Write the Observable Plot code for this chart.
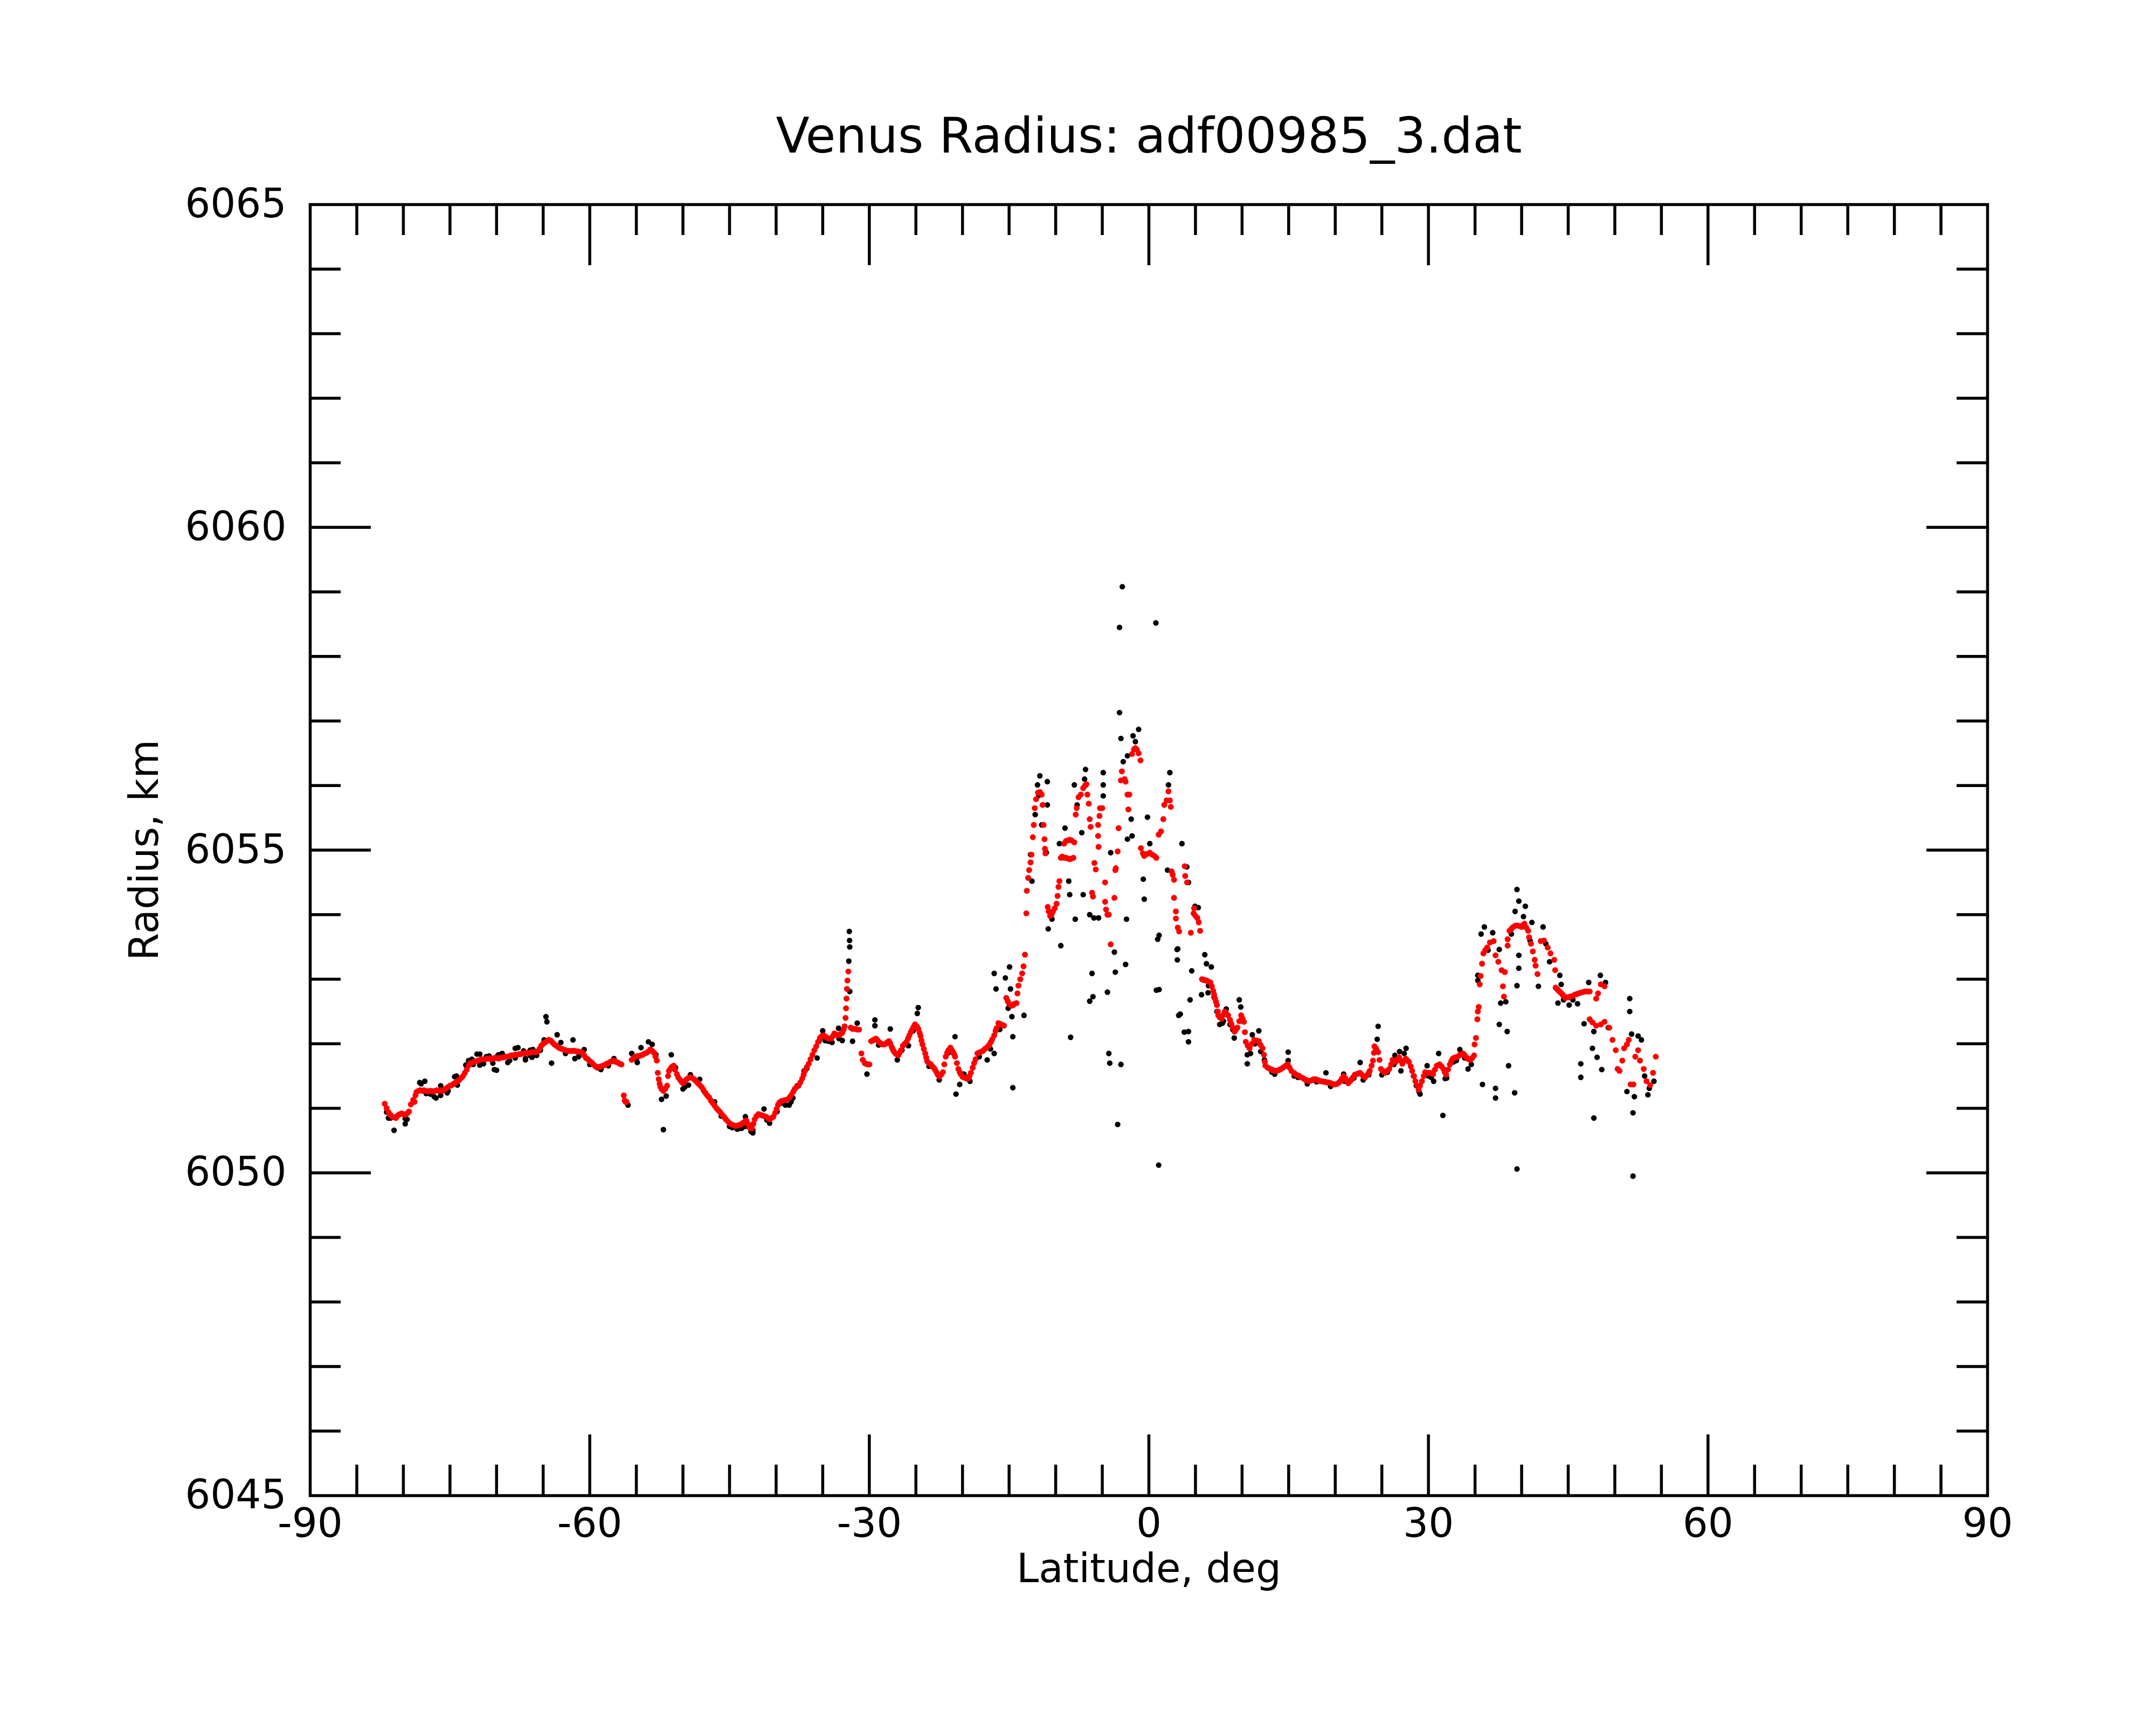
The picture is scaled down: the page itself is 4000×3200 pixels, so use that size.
<!DOCTYPE html>
<html><head><meta charset="utf-8">
<script src="https://cdn.jsdelivr.net/npm/d3@7"></script>
<script src="https://cdn.jsdelivr.net/npm/@observablehq/plot@0.6"></script>
<style>html,body{margin:0;padding:0;background:#fff}</style>
</head><body><div id="chart"></div>
<script>
const title = "Venus Radius: adf00985_3.dat";
const xLabel = "Latitude, deg";
const yLabel = "Radius, km";
const xTickLabels = [-90, -60, -30, 0, 30, 60, 90];
const yTickLabels = [6045, 6050, 6055, 6060, 6065];

// smoothed (red) series: [latitude deg, radius km]
const redSouth = [
[-82.0,6051.07],[-81.8,6051.0],[-81.6,6050.94],[-81.4,6050.9],[-81.2,6050.87],[-81.0,6050.86],[-80.8,6050.85],[-80.65,6050.88],
[-80.5,6050.9],[-80.35,6050.91],[-80.2,6050.92],[-80.0,6050.91],[-79.8,6050.9],[-79.6,6050.92],[-79.4,6050.95],[-79.2,6051.06],
[-78.95,6051.13],[-78.8,6051.1],[-78.7,6051.2],[-78.6,6051.25],[-78.4,6051.27],[-78.2,6051.28],[-78.0,6051.27],[-77.8,6051.28],
[-77.6,6051.27],[-77.4,6051.26],[-77.2,6051.27],[-77.0,6051.27],[-76.8,6051.26],[-76.6,6051.27],[-76.4,6051.28],[-76.2,6051.27],
[-76.0,6051.28],[-75.8,6051.27],[-75.6,6051.29],[-75.4,6051.31],[-75.2,6051.33],[-75.0,6051.35],[-74.8,6051.36],[-74.6,6051.38],
[-74.4,6051.4],[-74.2,6051.42],[-74.0,6051.44],[-73.8,6051.47],[-73.6,6051.5],[-73.4,6051.55],[-73.2,6051.6],[-73.0,6051.66],
[-72.8,6051.7],[-72.6,6051.71],[-72.4,6051.72],[-72.2,6051.73],[-72.0,6051.74],[-71.8,6051.75],[-71.6,6051.76],[-71.4,6051.76],
[-71.2,6051.76],[-71.0,6051.77],[-70.8,6051.77],[-70.6,6051.76],[-70.4,6051.77],[-70.2,6051.78],[-70.0,6051.78],[-69.8,6051.77],
[-69.6,6051.78],[-69.4,6051.79],[-69.2,6051.79],[-69.0,6051.8],[-68.8,6051.8],[-68.6,6051.81],[-68.4,6051.82],[-68.2,6051.82],
[-68.0,6051.83],[-67.8,6051.83],[-67.6,6051.84],[-67.4,6051.84],[-67.2,6051.85],[-67.0,6051.85],[-66.8,6051.86],[-66.6,6051.86],
[-66.4,6051.86],[-66.2,6051.87],[-66.0,6051.87],[-65.8,6051.87],[-65.6,6051.88],[-65.4,6051.92],[-65.2,6051.97],[-65.0,6052.0],
[-64.8,6052.02],[-64.6,6052.04],[-64.4,6052.06],[-64.2,6052.05],[-64.0,6052.02],[-63.8,6051.99],[-63.6,6051.97],[-63.4,6051.95],
[-63.2,6051.93],[-63.0,6051.92],[-62.8,6051.91],[-62.6,6051.9],[-62.4,6051.89],[-62.2,6051.89],[-62.0,6051.89],[-61.8,6051.89],
[-61.6,6051.89],[-61.4,6051.88],[-61.2,6051.88],[-61.0,6051.87],[-60.8,6051.86],[-60.6,6051.82],[-60.4,6051.78],[-60.2,6051.76],
[-60.0,6051.73],[-59.8,6051.71],[-59.6,6051.68],[-59.4,6051.65],[-59.2,6051.64],[-59.0,6051.64],[-58.8,6051.65],[-58.6,6051.66],
[-58.4,6051.67],[-58.2,6051.69],[-58.0,6051.7],[-57.8,6051.72],[-57.6,6051.73],[-57.4,6051.74],[-57.2,6051.72],[-57.0,6051.71],
[-56.8,6051.69],[-56.6,6051.68],[-56.35,6051.2],[-56.25,6051.12],[-56.15,6051.1],[-56.05,6051.1]
];
const redMid = [
[-55.5,6051.75],[-55.3,6051.78],[-55.1,6051.8],[-54.9,6051.81],[-54.7,6051.81],[-54.5,6051.82],[-54.3,6051.83],[-54.1,6051.85],
[-53.9,6051.86],[-53.7,6051.88],[-53.5,6051.91],[-53.3,6051.89],[-53.1,6051.86],[-52.95,6051.8],[-52.8,6051.74],[-52.7,6051.55],
[-52.6,6051.45],[-52.5,6051.38],[-52.4,6051.33],[-52.3,6051.3],[-52.1,6051.27],[-51.9,6051.3],[-51.7,6051.35],[-51.6,6051.5],
[-51.5,6051.58],[-51.35,6051.61],[-51.2,6051.64],[-51.0,6051.66],[-50.85,6051.6],[-50.65,6051.53],[-50.5,6051.48],[-50.3,6051.44],
[-50.15,6051.41],[-50.0,6051.39],[-49.8,6051.42],[-49.6,6051.45],[-49.4,6051.47],[-49.2,6051.48],[-49.0,6051.47],[-48.8,6051.45],
[-48.6,6051.42],[-48.4,6051.39],[-48.2,6051.36],[-48.0,6051.33],[-47.8,6051.29],[-47.6,6051.24],[-47.4,6051.2],[-47.2,6051.17],
[-47.0,6051.12],[-46.8,6051.08],[-46.6,6051.04],[-46.4,6051.0],[-46.2,6050.97],[-46.0,6050.94],[-45.8,6050.9],[-45.6,6050.87],
[-45.4,6050.83],[-45.2,6050.8],[-45.0,6050.77],[-44.8,6050.75],[-44.6,6050.74],[-44.4,6050.73],[-44.2,6050.73],[-44.0,6050.74],
[-43.8,6050.75],[-43.6,6050.77],[-43.4,6050.79],[-43.2,6050.81],[-43.05,6050.76],[-42.9,6050.71],[-42.75,6050.69],[-42.6,6050.69],
[-42.45,6050.76],[-42.3,6050.83],[-42.1,6050.88],[-41.9,6050.91],[-41.7,6050.9],[-41.5,6050.89],[-41.3,6050.88],[-41.1,6050.87],
[-40.9,6050.85],[-40.7,6050.83],[-40.5,6050.85],[-40.3,6050.87],[-40.1,6050.93],[-39.95,6050.99],[-39.8,6051.05],[-39.65,6051.09],
[-39.45,6051.11],[-39.25,6051.12],[-39.0,6051.13],[-38.75,6051.14],[-38.55,6051.17],[-38.35,6051.21],[-38.15,6051.26],[-38.0,6051.3],
[-37.8,6051.33],[-37.6,6051.35],[-37.4,6051.4],[-37.2,6051.46],[-37.05,6051.52],[-36.9,6051.58],[-36.7,6051.64],[-36.5,6051.69],
[-36.3,6051.76],[-36.1,6051.83],[-35.9,6051.9],[-35.7,6051.96],[-35.5,6052.03],[-35.3,6052.09],[-35.1,6052.12],[-34.9,6052.13],
[-34.7,6052.11],[-34.5,6052.09],[-34.3,6052.08],[-34.1,6052.08],[-33.9,6052.12],[-33.75,6052.16],[-33.5,6052.14],[-33.3,6052.13],
[-33.1,6052.15],[-32.9,6052.17],[-32.75,6052.22],[-32.65,6052.27],[-32.55,6052.4],[-32.5,6052.55],[-32.45,6052.7],[-32.4,6052.85],
[-32.35,6052.98],[-32.25,6053.12],[-32.0,6052.25],[-31.8,6052.23],[-31.6,6052.23],[-31.45,6052.23],[-31.3,6052.22],[-31.1,6052.22],
[-30.85,6051.85],[-30.7,6051.75],[-30.5,6051.7],[-30.35,6051.69],[-30.2,6051.68],[-30.0,6051.68]
];
const redNearEq = [
[-29.8,6052.04],[-29.65,6052.05],[-29.55,6052.06],[-29.4,6052.07],[-29.3,6052.08],[-29.15,6052.06],[-29.0,6052.03],[-28.8,6052.01],
[-28.6,6051.99],[-28.4,6051.99],[-28.25,6052.0],[-28.1,6052.02],[-27.9,6052.04],[-27.75,6052.0],[-27.6,6051.95],[-27.5,6051.92],
[-27.4,6051.89],[-27.25,6051.86],[-27.1,6051.84],[-26.9,6051.82],[-26.75,6051.86],[-26.6,6051.9],[-26.4,6051.97],[-26.2,6052.0],
[-26.0,6052.03],[-25.85,6052.08],[-25.7,6052.13],[-25.55,6052.18],[-25.4,6052.22],[-25.25,6052.26],[-25.1,6052.3],[-24.9,6052.27],
[-24.75,6052.23],[-24.6,6052.17],[-24.5,6052.12],[-24.4,6052.05],[-24.3,6051.99],[-24.15,6051.92],[-24.0,6051.85],[-23.9,6051.79],
[-23.8,6051.73],[-23.6,6051.7],[-23.4,6051.68],[-23.25,6051.65],[-23.1,6051.63],[-22.95,6051.6],[-22.8,6051.56],[-22.65,6051.52],
[-22.5,6051.49],[-22.3,6051.52],[-22.1,6051.56],[-21.95,6051.68],[-21.8,6051.8],[-21.65,6051.86],[-21.5,6051.9],[-21.3,6051.94],
[-21.15,6051.9],[-21.0,6051.87],[-20.9,6051.84],[-20.8,6051.8],[-20.6,6051.7],[-20.45,6051.61],[-20.3,6051.56],[-20.2,6051.53],
[-20.0,6051.49],[-19.85,6051.48],[-19.7,6051.47],[-19.55,6051.46],[-19.4,6051.46],[-19.25,6051.5],[-19.1,6051.55],[-18.9,6051.63],
[-18.75,6051.7],[-18.6,6051.76],[-18.4,6051.85],[-18.25,6051.86],[-18.1,6051.87],[-17.95,6051.88],[-17.8,6051.89],[-17.6,6051.92],
[-17.4,6051.94],[-17.25,6051.96],[-17.1,6051.99],[-16.95,6052.03],[-16.8,6052.07],[-16.6,6052.13],[-16.45,6052.2],[-16.35,6052.24],
[-16.15,6052.32],[-16.0,6052.31],[-15.85,6052.3],[-15.7,6052.29],[-15.55,6052.28],[-15.3,6052.71],[-15.15,6052.66],[-15.0,6052.62],
[-14.85,6052.6],[-14.7,6052.59],[-14.55,6052.6],[-14.4,6052.62],[-14.2,6052.63],[-14.1,6052.78],[-14.0,6052.9],[-13.8,6053.0],
[-13.6,6053.09],[-13.45,6053.2],[-13.3,6053.38]
];
const redPeak = [
[-13.15,6054.02],[-13.1,6054.37],[-12.95,6054.57],[-12.85,6054.69],[-12.7,6054.81],[-12.6,6054.93],[-12.45,6055.2],[-12.35,6055.39],
[-12.25,6055.65],[-12.1,6055.79],[-11.9,6055.89],[-11.7,6055.9],[-11.5,6055.86],[-11.4,6055.7],[-11.3,6055.39],[-11.2,6055.17],
[-11.15,6055.02],[-11.1,6054.95],[-10.85,6054.12],[-10.75,6054.05],[-10.6,6053.98],[-10.45,6054.0],[-10.3,6054.05],[-10.1,6054.1],
[-9.9,6054.17],[-9.8,6054.29],[-9.7,6054.43],[-9.6,6054.52],[-9.45,6054.88],[-9.3,6054.9],[-9.1,6054.88],[-8.9,6054.88],
[-8.7,6054.87],[-8.5,6054.86],[-8.3,6054.87],[-8.1,6054.88],[-9.1,6055.1],[-8.9,6055.14],[-8.7,6055.15],[-8.5,6055.16],
[-8.3,6055.15],[-8.0,6055.12],[-7.85,6055.55],[-7.75,6055.65],[-7.55,6055.82],[-7.3,6055.86],[-7.05,6055.96],[-6.85,6056.0],
[-6.7,6056.02],[-6.6,6055.86],[-6.45,6055.72],[-6.35,6055.48],[-6.25,6055.36],[-5.85,6054.8],[-5.7,6054.7],[-6.1,6054.34],
[-6.0,6054.28],[-5.4,6055.05],[-5.45,6055.22],[-5.45,6055.39],[-5.3,6055.53],[-5.25,6055.65],[-5.0,6055.65],[-4.7,6054.5],
[-4.7,6054.2],[-4.6,6054.08],[-4.45,6054.0],[-4.3,6054.0],[-4.1,6053.54],[-3.7,6054.26],[-3.6,6054.69],[-3.55,6054.72],
[-3.35,6054.98],[-3.25,6055.34],[-3.0,6056.08],[-2.9,6056.22],[-2.6,6056.1],[-2.5,6056.06],[-2.3,6055.86],[-2.2,6055.63],
[-2.1,6055.86],[-1.8,6056.49],[-1.6,6056.56],[-1.45,6056.58],[-1.3,6056.56],[-1.1,6056.5],[-0.9,6056.39],[-0.85,6055.03],
[-0.65,6054.95],[-0.5,6054.91],[-0.2,6054.94],[0.1,6054.96],[0.35,6054.93],[0.6,6054.91],[0.8,6054.88],[1.05,6055.24],
[1.3,6055.29],[1.55,6055.48],[1.65,6055.7],[1.9,6055.77],[2.1,6055.91],[2.25,6055.77],[2.35,6055.67],[2.45,6054.67],
[2.55,6054.62],[2.7,6054.54],[2.7,6054.26],[2.9,6054.05],[2.9,6053.94],[3.1,6053.8],[3.25,6053.74],[3.85,6054.75],
[3.9,6054.6],[4.1,6054.5],[4.5,6053.72],[4.8,6054.02],[4.85,6054.1],[5.0,6053.98],[5.2,6053.95],[5.35,6053.88],[5.5,6053.75]
];
const redNorth = [
[5.7,6053.0],[5.85,6052.99],[5.95,6052.99],[6.1,6052.98],[6.2,6052.98],[6.4,6052.96],[6.6,6052.95],[6.75,6052.89],
[6.9,6052.82],[7.0,6052.76],[7.1,6052.7],[7.2,6052.65],[7.3,6052.6],[7.4,6052.5],[7.45,6052.44],[7.6,6052.41],
[7.8,6052.39],[8.0,6052.45],[8.15,6052.5],[8.3,6052.47],[8.5,6052.44],[8.7,6052.37],[8.85,6052.31],[9.0,6052.25],
[9.2,6052.19],[9.35,6052.22],[9.5,6052.25],[9.7,6052.35],[9.9,6052.44],[10.05,6052.39],[10.2,6052.34],[10.3,6052.18],
[10.4,6052.03],[10.6,6051.97],[10.8,6051.93],[11.05,6052.0],[11.3,6052.06],[11.55,6052.05],[11.8,6052.04],[12.0,6051.98],
[12.2,6051.93],[12.35,6051.83],[12.45,6051.72],[12.5,6051.66],[12.75,6051.63],[12.9,6051.62],[13.0,6051.61],[13.2,6051.6],
[13.35,6051.59],[13.5,6051.58],[13.7,6051.58],[13.9,6051.59],[14.05,6051.6],[14.2,6051.61],[14.4,6051.63],[14.6,6051.65],
[14.75,6051.67],[14.9,6051.68],[15.1,6051.63],[15.3,6051.58],[15.55,6051.55],[15.65,6051.54],[15.8,6051.52],[16.0,6051.51],
[16.15,6051.5],[16.3,6051.48],[16.5,6051.47],[16.7,6051.45],[16.85,6051.44],[17.0,6051.43],[17.2,6051.42],[17.4,6051.43],
[17.55,6051.44],[17.7,6051.45],[17.9,6051.45],[18.1,6051.44],[18.25,6051.43],[18.4,6051.42],[18.6,6051.42],[18.8,6051.41],
[18.95,6051.41],[19.1,6051.4],[19.3,6051.4],[19.5,6051.39],[19.65,6051.38],[19.8,6051.37],[20.0,6051.37],[20.2,6051.38],
[20.4,6051.4],[20.55,6051.42],[20.7,6051.46],[20.9,6051.5],[21.05,6051.47],[21.15,6051.44],[21.3,6051.41],[21.4,6051.39],
[21.6,6051.42],[21.75,6051.45],[21.9,6051.48],[22.1,6051.52],[22.3,6051.53],[22.5,6051.54],[22.65,6051.55],[22.8,6051.53],
[23.0,6051.5],[23.2,6051.48],[23.45,6051.52],[23.6,6051.55],[23.7,6051.58],[23.9,6051.66],[24.05,6051.74],[24.15,6051.86],
[24.2,6051.96],[24.3,6051.94],[24.4,6051.92],[24.6,6051.87],[24.75,6051.75],[24.9,6051.61],[25.1,6051.58],[25.3,6051.55],
[25.55,6051.58],[25.8,6051.61],[26.0,6051.68],[26.15,6051.75],[26.35,6051.73],[26.5,6051.72],[26.7,6051.76],[26.85,6051.79],
[27.0,6051.74],[27.2,6051.69],[27.35,6051.73],[27.55,6051.77],[27.7,6051.75],[27.9,6051.72],[28.1,6051.65],[28.25,6051.58],
[28.45,6051.5],[28.6,6051.42],[28.8,6051.35],[28.95,6051.29],[29.1,6051.35],[29.3,6051.42],[29.5,6051.5],[29.65,6051.56],
[29.9,6051.55],[30.05,6051.55],[30.2,6051.55],[30.35,6051.54],[30.5,6051.53],[30.7,6051.6],[30.9,6051.66],[31.05,6051.67],
[31.2,6051.68],[31.4,6051.65],[31.6,6051.61],[31.75,6051.56],[31.9,6051.52],[32.1,6051.6],[32.3,6051.68],[32.45,6051.73],
[32.6,6051.77],[32.75,6051.78],[32.9,6051.79],[33.15,6051.8],[33.3,6051.82],[33.45,6051.83],[33.6,6051.84],[33.7,6051.85],
[33.85,6051.83],[34.0,6051.8],[34.2,6051.77],[34.35,6051.76],[34.5,6051.75],[34.7,6051.78],[34.9,6051.82]
];
const redHigh = [
[34.95,6051.99],[35.1,6052.09],[35.25,6052.38],[35.3,6052.5],[35.4,6052.57],[35.5,6052.92],[35.6,6053.05],[35.75,6053.24],
[35.9,6053.4],[36.1,6053.45],[36.3,6053.49],[36.6,6053.57],[37.0,6053.59],[37.2,6053.37],[37.5,6053.27],[37.85,6053.14],
[38.2,6053.11],[38.0,6052.89],[38.1,6052.73],[38.5,6053.52],[38.5,6053.62],[38.7,6053.75],[38.9,6053.78],[39.1,6053.81],
[39.35,6053.83],[39.6,6053.83],[39.85,6053.82],[40.0,6053.81],[40.15,6053.84],[40.3,6053.86],[40.5,6053.8],[40.7,6053.75],
[40.8,6053.65],[41.0,6053.55],[41.2,6053.43],[41.4,6053.3],[41.5,6053.21],[41.7,6053.08],[42.05,6053.59],[42.4,6053.6],
[42.8,6053.49],[43.1,6053.4],[43.5,6053.3],[43.6,6053.14],[43.65,6052.87],[43.8,6052.85],[43.9,6052.83],[44.05,6052.81],
[44.2,6052.79],[44.35,6052.77],[44.45,6052.75],[44.6,6052.73],[44.7,6052.71],[44.9,6052.72],[45.05,6052.72],[45.2,6052.73],
[45.45,6052.74],[45.7,6052.76],[45.9,6052.77],[46.1,6052.78],[46.3,6052.79],[46.55,6052.8],[46.8,6052.81],[47.05,6052.81],
[47.3,6052.81],[48.0,6052.7],[48.2,6052.78],[48.5,6052.92],[48.9,6052.89],[47.3,6052.38],[47.6,6052.33],[48.0,6052.28],
[48.5,6052.3],[48.9,6052.34],[49.4,6052.25],[49.75,6052.06],[50.1,6051.9],[50.3,6051.61],[50.5,6051.58],[50.8,6051.74],
[51.0,6051.93],[51.3,6051.99],[51.5,6052.06],[51.7,6051.37],[52.0,6051.37],[52.2,6051.8],[52.5,6051.9],[52.7,6051.74],
[53.1,6051.61],[53.4,6051.42],[53.8,6051.36],[54.1,6051.55],[54.4,6051.8]
];

// raw (black) series: [latitude deg, radius km]
const blackSouth = [
[-81.8,6050.94],[-81.6,6050.85],[-81.4,6050.85],[-81.0,6050.66],[-79.8,6050.76],[-79.8,6050.84],[-79.6,6050.83],[-78.25,6051.4],
[-78.1,6051.38],[-77.7,6051.42],[-77.55,6051.23],[-77.1,6051.22],[-76.7,6051.18],[-76.5,6051.16],[-76.0,6051.35],[-76.0,6051.2],
[-75.3,6051.24],[-75.2,6051.27],[-74.5,6051.49],[-74.3,6051.5],[-74.2,6051.36],[-73.3,6051.67],[-73.0,6051.74],[-72.65,6051.76],
[-72.5,6051.68],[-72.1,6051.84],[-71.8,6051.84],[-71.8,6051.67],[-71.4,6051.69],[-71.1,6051.8],[-70.8,6051.81],[-70.4,6051.7],
[-70.24,6051.6],[-70.0,6051.59],[-69.9,6051.81],[-69.8,6051.83],[-69.4,6051.85],[-68.8,6051.71],[-68.6,6051.74],[-68.0,6051.93],
[-68.0,6051.78],[-67.7,6051.94],[-67.1,6051.89],[-66.9,6051.75],[-66.9,6051.77],[-66.4,6051.9],[-66.4,6051.82],[-66.2,6051.79],
[-66.1,6051.91],[-65.7,6051.82],[-65.3,6051.9],[-64.9,6052.06],[-64.7,6052.42],[-64.6,6052.34],[-64.1,6051.7],[-63.5,6052.14],
[-63.1,6052.02],[-62.6,6051.85],[-61.8,6052.06],[-61.6,6051.77],[-61.2,6051.8],[-60.6,6051.91],[-60.4,6051.78],[-60.0,6051.68],
[-59.2,6051.63],[-58.8,6051.6],[-58.8,6051.62],[-58.0,6051.66],[-57.4,6051.77],[-55.9,6051.05]
];
const blackMid = [
[-55.5,6051.85],[-55.0,6051.76],[-54.9,6051.71],[-54.5,6051.94],[-53.7,6052.03],[-53.3,6051.99],[-52.9,6051.83],[-52.3,6051.14],
[-52.1,6050.67],[-51.8,6051.19],[-51.25,6051.83],[-50.8,6051.63],[-50.0,6051.3],[-49.8,6051.33],[-49.4,6051.36],[-49.2,6051.52],
[-48.2,6051.45],[-47.8,6051.28],[-47.0,6051.12],[-46.6,6051.1],[-45.9,6050.88],[-45.5,6050.85],[-45.0,6050.72],[-44.7,6050.7],
[-44.2,6050.68],[-44.1,6050.68],[-43.7,6050.69],[-43.3,6050.87],[-43.3,6050.72],[-42.7,6050.64],[-42.5,6050.66],[-42.5,6050.62],
[-41.3,6050.99],[-41.0,6050.82],[-40.7,6050.77],[-39.9,6050.95],[-39.4,6051.08],[-39.0,6051.05],[-38.6,6051.05],[-38.4,6051.1],
[-38.2,6051.16],[-37.75,6051.35],[-37.0,6051.58],[-36.7,6051.62],[-36.3,6051.76],[-35.6,6051.78],[-35.4,6052.04],[-35.0,6052.2],
[-34.75,6052.05],[-34.4,6052.04],[-34.0,6052.02],[-33.3,6052.24],[-33.25,6052.08],[-32.9,6052.05],[-32.15,6053.74],[-32.12,6053.6],
[-32.1,6053.5],[-32.2,6053.28],[-32.1,6052.81],[-31.8,6052.04],[-31.3,6052.32],[-30.25,6051.53]
];
const blackNearEq = [
[-29.4,6052.37],[-29.4,6052.28],[-29.0,6051.98],[-27.75,6052.23],[-27.0,6051.75],[-26.5,6051.9],[-25.8,6051.97],[-25.3,6052.2],
[-24.75,6052.56],[-24.85,6052.47],[-23.6,6051.65],[-22.5,6051.44],[-21.5,6051.86],[-20.8,6052.11],[-20.7,6051.22],[-20.3,6051.37],
[-19.85,6051.53],[-19.2,6051.42],[-18.2,6051.8],[-17.35,6051.75],[-17.0,6051.92],[-16.6,6051.85],[-16.0,6052.22],[-16.6,6053.09],
[-16.4,6052.85],[-15.4,6053.02],[-15.1,6052.55],[-14.95,6053.19],[-14.85,6052.85],[-14.7,6052.42],[-14.6,6052.11],[-14.6,6051.32],
[-13.4,6052.44]
];
const blackPeak = [
[-12.55,6054.52],[-12.7,6054.93],[-12.2,6055.55],[-11.8,6055.85],[-11.7,6056.15],[-11.95,6056.01],[-10.9,6056.06],[-10.9,6055.7],
[-11.5,6055.39],[-11.0,6054.96],[-10.8,6053.78],[-10.4,6053.93],[-9.45,6053.52],[-9.6,6055.1],[-9.0,6055.34],[-8.6,6054.52],
[-8.5,6054.31],[-8.4,6052.1],[-7.9,6053.93],[-8.0,6056.01],[-7.7,6055.7],[-7.2,6055.27],[-7.05,6054.31],[-6.9,6056.1],
[-6.8,6056.25],[-6.35,6054.0],[-6.1,6053.09],[-6.35,6052.66],[-6.0,6052.73],[-5.9,6053.95],[-5.4,6053.95],[-4.9,6056.2],
[-4.9,6056.01],[-4.9,6055.84],[-4.45,6052.8],[-4.3,6051.85],[-4.2,6051.7],[-4.1,6054.96],[-3.7,6053.42],[-3.6,6053.11],
[-3.35,6050.75],[-3.0,6051.68],[-3.15,6057.13],[-3.0,6056.73],[-2.75,6056.37],[-2.4,6053.93],[-2.5,6053.23],[-2.3,6056.46],
[-2.3,6055.17],[-1.9,6055.48],[-1.8,6055.22],[-1.7,6056.77],[-1.45,6056.68],[-1.1,6056.87],[-0.5,6054.24],[-0.6,6054.55],
[-0.15,6055.51],[0.1,6055.1],[0.8,6052.83],[0.95,6053.62],[1.05,6050.12],[2.25,6056.2],[2.1,6056.01],[3.1,6053.47],
[3.05,6053.3],[3.2,6052.44],[3.55,6055.1],[3.8,6052.18],[-2.85,6059.08],[-3.15,6058.45],[0.75,6058.52],[1.1,6053.68],
[1.1,6052.84],[2.0,6054.69],[4.07,6054.74],[4.25,6054.5],[3.02,6053.46],[3.37,6052.46],[4.25,6052.19],[4.25,6052.03],
[4.42,6052.68],[4.6,6053.13],[4.95,6054.13],[5.3,6054.11]
];
const blackNorth = [
[6.0,6053.38],[6.18,6053.24],[6.7,6053.19],[5.65,6052.76],[6.35,6052.79],[6.4,6052.9],[7.0,6052.72],[7.3,6052.5],
[7.6,6052.3],[7.9,6052.32],[8.0,6052.35],[8.3,6052.54],[8.7,6052.3],[9.0,6052.22],[9.16,6052.09],[9.7,6052.68],
[9.86,6052.57],[10.0,6052.4],[10.56,6051.69],[10.56,6051.83],[10.9,6051.85],[11.1,6052.14],[11.4,6052.0],[11.8,6052.2],
[12.0,6051.88],[12.4,6051.75],[13.2,6051.56],[13.5,6051.53],[14.95,6051.87],[14.95,6051.74],[15.6,6051.5],[16.0,6051.48],
[17.0,6051.38],[18.0,6051.41],[19.0,6051.55],[19.5,6051.34],[20.9,6051.53],[21.0,6051.42],[22.0,6051.47],[22.67,6051.71],
[23.0,6051.44],[23.6,6051.52],[24.6,6052.27],[24.5,6052.07],[25.0,6051.52],[25.6,6051.56],[26.3,6051.68],[26.4,6051.82],
[26.9,6051.88],[27.4,6051.85],[27.6,6051.93],[27.05,6051.58],[28.4,6051.5],[28.7,6051.35],[28.98,6051.26],[29.1,6051.22],
[29.86,6051.66],[30.0,6051.5],[30.3,6051.48],[30.56,6051.42],[31.1,6051.85],[31.55,6050.89],[31.8,6051.46],[31.96,6051.47],
[32.7,6051.72],[33.0,6051.74],[33.37,6051.91],[33.9,6051.78],[34.25,6051.61],[34.6,6051.68]
];
const blackHigh = [
[35.3,6053.06],[35.3,6052.98],[35.65,6053.7],[36.0,6053.81],[35.8,6051.37],[36.4,6053.45],[36.9,6053.72],[37.2,6051.31],
[37.2,6051.16],[37.6,6053.46],[37.6,6052.3],[37.75,6052.63],[38.3,6052.65],[38.45,6052.19],[38.6,6051.66],[38.9,6053.7],
[39.25,6051.24],[39.3,6054.05],[39.5,6054.39],[39.7,6054.21],[39.5,6050.06],[39.7,6053.37],[39.7,6053.17],[39.5,6052.9],
[40.2,6053.97],[40.4,6054.13],[40.9,6053.6],[41.1,6053.88],[41.8,6052.89],[42.3,6053.81],[42.6,6053.55],[43.0,6053.27],
[44.1,6053.06],[44.25,6052.92],[43.9,6052.63],[44.5,6052.68],[45.1,6052.6],[45.5,6052.68],[46.0,6052.62],[46.35,6051.69],
[46.35,6051.48],[46.7,6052.31],[47.2,6052.95],[47.6,6051.93],[47.75,6050.85],[48.1,6051.79],[48.45,6053.06],[48.6,6051.6],
[47.75,6052.19],[49.0,6052.95],[49.3,6052.25],[51.6,6052.7],[51.6,6052.5],[51.8,6052.15],[51.3,6051.26],[52.1,6051.18],
[51.95,6050.93],[51.95,6049.95],[52.5,6052.12],[52.85,6052.06],[53.2,6051.5],[53.55,6051.21],[53.7,6051.31],[54.2,6051.42]
];

const toRows = arr => arr.map(([lat, r]) => ({lat, r}));
const red = toRows([...redSouth, ...redMid, ...redNearEq, ...redPeak, ...redNorth, ...redHigh]);
const black = toRows([...blackSouth, ...blackMid, ...blackNearEq, ...blackPeak, ...blackNorth, ...blackHigh]);

const W = 4000, H = 3200, mL = 575, mR = 313, mT = 379, mB = 426;
const iW = W - mL - mR, iH = H - mT - mB;
const minorLen = 57, majorLen = 113, sw = 5.5;
const xMinor = d3.range(-85, 90, 5).filter(d => d % 30 !== 0);
const xMajor = xTickLabels.filter(d => Math.abs(d) !== 90);
const yMinor = d3.range(6046, 6065, 1).filter(d => d % 5 !== 0);
const yMajor = yTickLabels.filter(d => d !== 6045 && d !== 6065);

const chart = Plot.plot({
  width: W, height: H,
  marginLeft: mL, marginRight: mR, marginTop: mT, marginBottom: mB,
  style: {fontFamily: "DejaVu Sans", fontSize: "74px", background: "white", color: "black"},
  x: {domain: [-90, 90]},
  y: {domain: [6045, 6065]},
  marks: [
    Plot.dot(black, {x: "lat", y: "r", r: 5.2, fill: "black", stroke: "none"}),
    Plot.dot(red, {x: "lat", y: "r", r: 5.5, fill: "#ff0000", stroke: "none"}),
    Plot.tickX(xMinor, {x: d => d, insetTop: iH - minorLen, strokeWidth: sw}),
    Plot.tickX(xMinor, {x: d => d, insetBottom: iH - minorLen, strokeWidth: sw}),
    Plot.tickX(xMajor, {x: d => d, insetTop: iH - majorLen, strokeWidth: sw}),
    Plot.tickX(xMajor, {x: d => d, insetBottom: iH - majorLen, strokeWidth: sw}),
    Plot.tickY(yMinor, {y: d => d, insetRight: iW - minorLen, strokeWidth: sw}),
    Plot.tickY(yMinor, {y: d => d, insetLeft: iW - minorLen, strokeWidth: sw}),
    Plot.tickY(yMajor, {y: d => d, insetRight: iW - majorLen, strokeWidth: sw}),
    Plot.tickY(yMajor, {y: d => d, insetLeft: iW - majorLen, strokeWidth: sw}),
    Plot.frame({strokeWidth: sw}),
    Plot.axisX({anchor: "bottom", ticks: xTickLabels, tickSize: 0, tickPadding: 24,
      tickFormat: d => String(d), fontSize: 74, label: null}),
    Plot.axisY({anchor: "left", ticks: yTickLabels, tickSize: 0, tickPadding: 44,
      tickFormat: d => String(d), fontSize: 74, label: null}),
    Plot.text([title], {frameAnchor: "top", dy: -97, lineAnchor: "bottom", fontSize: 91, text: d => d}),
    Plot.text([xLabel], {frameAnchor: "bottom", dy: 160, lineAnchor: "bottom", fontSize: 74, text: d => d}),
    Plot.text([yLabel], {frameAnchor: "left", dx: -283, rotate: -90, lineAnchor: "bottom",
      textAnchor: "middle", fontSize: 74, text: d => d})
  ]
});
document.getElementById("chart").appendChild(chart);
</script>
</body></html>
